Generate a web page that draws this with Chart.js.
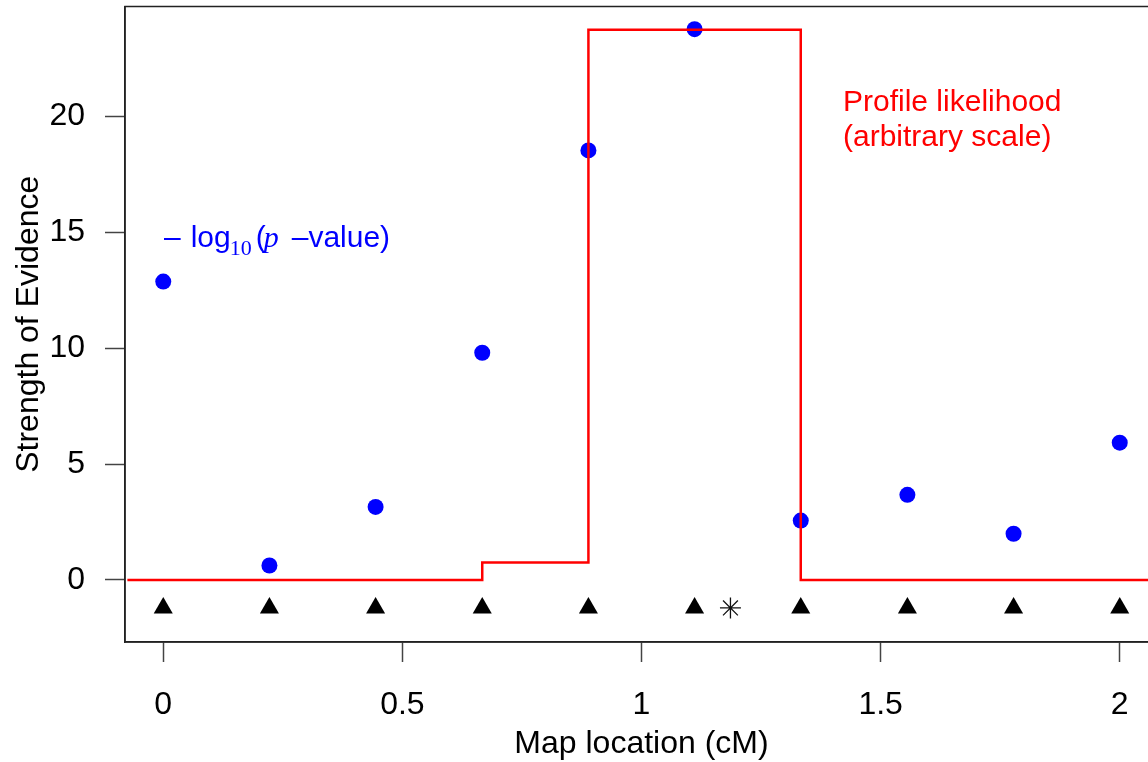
<!DOCTYPE html>
<html><head><meta charset="utf-8">
<script src="https://cdn.jsdelivr.net/npm/chart.js@4.4.1/dist/chart.umd.min.js"></script>
<style>
html,body{margin:0;padding:0;overflow:hidden;background:#fff;width:1148px;height:762px}
#wrap{position:relative;width:1160px;height:762px}
</style></head>
<body><div id="wrap"><canvas id="c" width="1160" height="762"></canvas></div>
<script>
// ---- data ----
const markerPositions = [0, 0.222, 0.444, 0.667, 0.889, 1.111, 1.333, 1.556, 1.778, 2.0];
const pValueScores = [12.87, 0.62, 3.15, 9.80, 18.53, 23.76, 2.56, 3.67, 1.99, 5.92];
const markerTrackLevel = -1.21;
const peakEstimateX = [1.186];
const profileX = [-0.075, 0.667, 0.889, 1.333, 2.08];
const profileY = [0, 0.75, 23.74, 0, 0];
const xTicks = [0, 0.5, 1, 1.5, 2];
const yTicks = [0, 5, 10, 15, 20];
const xRange = [-0.08, 2.08];
const yRange = [-2.68, 24.74];
const xTitle = 'Map location (cM)';
const yTitle = 'Strength of Evidence';
const profileLabel = ['Profile likelihood', '(arbitrary scale)'];

const SANS = '"Liberation Sans", Arial, Helvetica, sans-serif';
const SERIF = '"Liberation Serif", "Times New Roman", serif';

const profileData = profileX.map((x, i) => ({x, y: profileY[i]}));
const scoreData = markerPositions.map((x, i) => ({x, y: pValueScores[i]}));
const markerData = markerPositions.map(x => ({x, y: markerTrackLevel}));
const starData = peakEstimateX.map(x => ({x, y: markerTrackLevel}));

const annotations = {
  id: 'annotations',
  afterDatasetsDraw(chart) {
    const ctx = chart.ctx;
    const a = chart.chartArea;
    ctx.save();
    ctx.strokeStyle = '#222';
    ctx.lineWidth = 1.5;
    ctx.strokeRect(a.left, a.top, a.right - a.left, a.bottom - a.top);
    ctx.fillStyle = '#ff0000';
    ctx.font = '30px ' + SANS;
    ctx.textBaseline = 'alphabetic';
    ctx.textAlign = 'left';
    ctx.fillText(profileLabel[0], 843, 111);
    ctx.fillText(profileLabel[1], 843, 146);
    ctx.fillStyle = '#0000ff';
    let x = 164, base = 247;
    const piece = (txt, font, dy, gap) => {
      ctx.font = font;
      ctx.fillText(txt, x, base + dy);
      x += ctx.measureText(txt).width + (gap || 0);
    };
    piece('\u2013', '30px ' + SANS, 0, 10);
    piece('log', '30px ' + SANS, 0, -1);
    piece('10', '22px ' + SERIF, 8, 4);
    piece('(', '30px ' + SANS, 0, -2);
    piece('p', 'italic 30px ' + SERIF, 0, 13);
    piece('\u2013value)', '30px ' + SANS, 0, 0);
    ctx.restore();
  }
};

function fixX(s) { s.height = 120; s.paddingLeft = 0; s.paddingRight = 0; s.paddingTop = 0; s.paddingBottom = 0; }
function fixY(s) { s.width = 125; s.paddingLeft = 0; s.paddingRight = 0; s.paddingTop = 0; s.paddingBottom = 0; }

new Chart(document.getElementById('c'), {
  type: 'scatter',
  data: {
    datasets: [
      {
        type: 'line', label: 'Profile likelihood', data: profileData,
        stepped: 'before', borderColor: '#ff0000', borderWidth: 2.5,
        pointRadius: 0, fill: false, order: 0
      },
      {
        label: 'p-value', data: scoreData, backgroundColor: '#0000ff',
        borderWidth: 0, pointRadius: 8, pointStyle: 'circle', order: 1
      },
      {
        label: 'markers', data: markerData, backgroundColor: '#000',
        borderColor: '#000', borderWidth: 0, pointRadius: 11, pointStyle: 'triangle', order: 2
      },
      {
        label: 'estimate', data: starData, backgroundColor: '#000',
        borderColor: '#111', borderWidth: 1.3, pointRadius: 10.5, pointStyle: 'star', order: 3
      }
    ]
  },
  options: {
    responsive: false,
    animation: false,
    devicePixelRatio: 1,
    layout: { autoPadding: false, padding: { top: 6.5, right: 2, left: 0, bottom: 0 } },
    plugins: { legend: { display: false }, tooltip: { enabled: false } },
    scales: {
      x: {
        type: 'linear', min: xRange[0], max: xRange[1],
        afterFit: fixX,
        afterBuildTicks(s) { s.ticks = xTicks.map(v => ({value: v})); },
        grid: { drawOnChartArea: false, drawTicks: true, tickLength: 20, tickColor: '#444', tickWidth: 1.5 },
        border: { display: true, color: '#222', width: 1.5 },
        ticks: { color: '#000', font: { family: SANS, size: 32 }, padding: 24, maxRotation: 0,
                 callback: v => String(v) },
        title: { display: true, text: xTitle, color: '#000', font: { family: SANS, size: 32 },
                 padding: { top: 0, bottom: -1.5 } }
      },
      y: {
        type: 'linear', min: yRange[0], max: yRange[1],
        afterFit: fixY,
        afterBuildTicks(s) { s.ticks = yTicks.map(v => ({value: v})); },
        grid: { drawOnChartArea: false, drawTicks: true, tickLength: 20, tickColor: '#444', tickWidth: 1.5 },
        border: { display: true, color: '#222', width: 1.5 },
        ticks: { color: '#000', font: { family: SANS, size: 32 }, padding: 20,
                 callback: v => String(v) },
        title: { display: true, text: yTitle, color: '#000', font: { family: SANS, size: 32 },
                 padding: { top: 10, bottom: 0 } }
      }
    }
  },
  plugins: [annotations]
});
</script></body></html>
